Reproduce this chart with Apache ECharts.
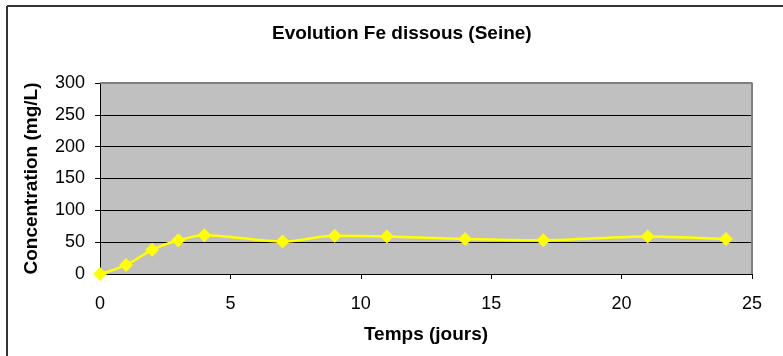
<!DOCTYPE html>
<html><head><meta charset="utf-8">
<script src="https://cdn.jsdelivr.net/npm/echarts@6/dist/echarts.min.js"></script>
<style>html,body{margin:0;padding:0;background:#fff}#c{width:783px;height:356px}</style>
</head><body><div id="c"></div>
<script>
const days = [0, 1, 2, 3, 4, 7, 9, 11, 14, 17, 21, 24];
const feValues = [0, 14, 38, 53, 61, 51, 60, 59, 55, 53, 59, 55];
const yTicks = [0, 300, 50];
const xTicks = [0, 25, 5];
const titleText = 'Evolution Fe dissous (Seine)';
const xName = 'Temps (jours)';
const yName = 'Concentration (mg/L)';

const chart = echarts.init(document.getElementById('c'), null, {renderer: 'canvas'});
const font = 'Arial, "Liberation Sans", sans-serif';
chart.setOption({
  animation: false,
  backgroundColor: '#ffffff',
  title: {
    text: titleText, left: 267, top: 19,
    textStyle: {fontFamily: font, fontWeight: 'bold', fontSize: 19, color: '#000'}
  },
  graphic: [
    {type: 'line', shape: {x1: 7, y1: 6, x2: 783, y2: 6}, style: {stroke: '#333', lineWidth: 2}},
    {type: 'line', shape: {x1: 7, y1: 6, x2: 7, y2: 356}, style: {stroke: '#333', lineWidth: 2}}
  ],
  grid: {
    left: 100, right: 31, top: 83, bottom: 82,
    show: true, backgroundColor: '#c0c0c0', borderColor: '#808080', borderWidth: 0
  },
  xAxis: {
    type: 'value', min: xTicks[0], max: xTicks[1], interval: xTicks[2],
    name: xName, nameLocation: 'middle', nameGap: 51,
    nameTextStyle: {fontFamily: font, fontWeight: 'bold', fontSize: 19, color: '#000'},
    axisLine: {show: true, lineStyle: {color: '#000', width: 1}},
    axisTick: {show: true, length: 5, lineStyle: {color: '#000'}},
    axisLabel: {fontFamily: font, fontSize: 18, color: '#000', margin: 21},
    splitLine: {show: false}
  },
  yAxis: {
    type: 'value', min: yTicks[0], max: yTicks[1], interval: yTicks[2],
    name: yName, nameLocation: 'middle', nameGap: 59, nameRotate: 90,
    nameTextStyle: {fontFamily: font, fontWeight: 'bold', fontSize: 19, color: '#000'},
    axisLine: {show: true, lineStyle: {color: '#000', width: 1}},
    axisTick: {show: true, length: 5, lineStyle: {color: '#000'}},
    axisLabel: {fontFamily: font, fontSize: 18, color: '#000', margin: 15},
    splitLine: {show: true, lineStyle: {color: '#000', width: 1}}
  },
  series: [
    {
      type: 'line', data: days.map((d, i) => [d, feValues[i]]),
      smooth: 0.3, symbol: 'diamond', symbolSize: 14,
      lineStyle: {color: '#ffff00', width: 2.5},
      itemStyle: {color: '#ffff00'},
      z: 5
    },
    {
      type: 'line', data: [[xTicks[1], yTicks[0]], [xTicks[1], yTicks[1]], [xTicks[0], yTicks[1]]],
      symbol: 'none', lineStyle: {color: '#808080', width: 2}, silent: true, z: 3
    }
  ]
});
</script></body></html>
